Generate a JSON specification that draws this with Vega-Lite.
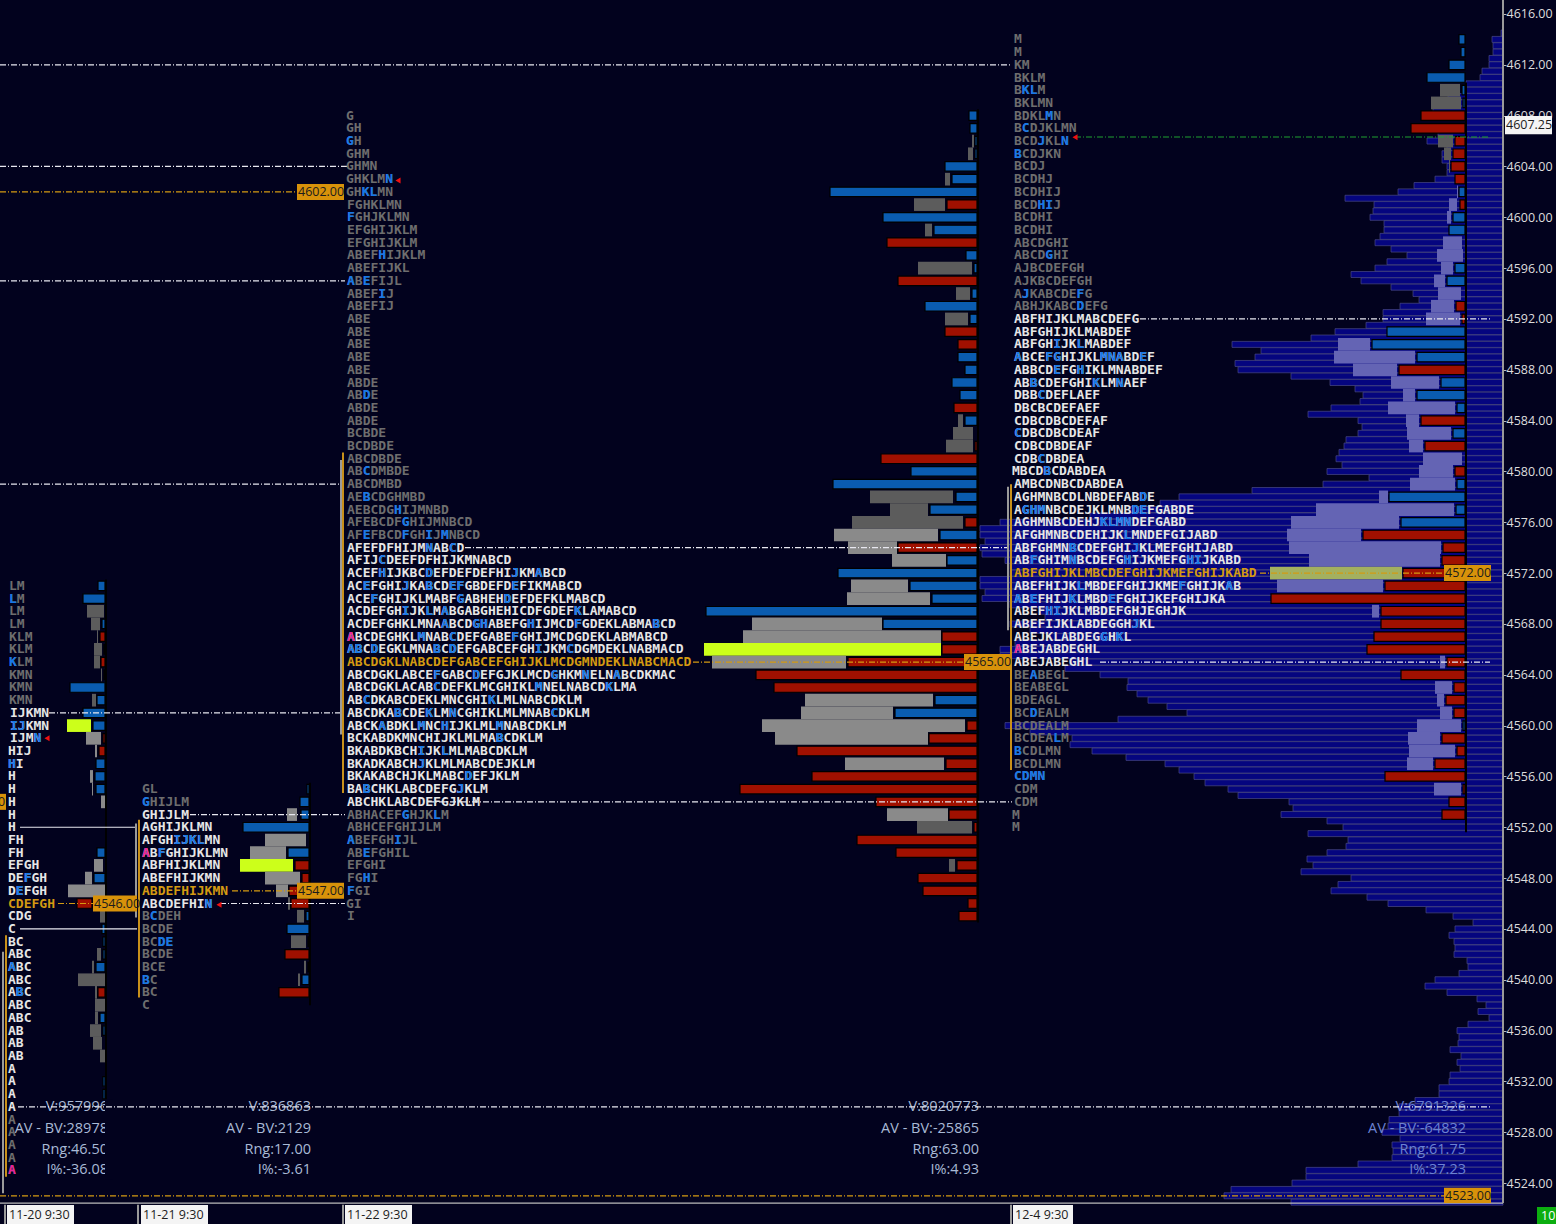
{"$schema":"https://vega.github.io/schema/vega-lite/v6.json","width":1556,"height":1224,"autosize":{"type":"none"},"padding":0,"background":"#02021e","config":{"view":{"stroke":null},"scale":{"continuousPadding":0},"axisY":{"domain":false,"grid":false,"ticks":true,"tickSize":3,"tickColor":"#bbbbbb","labelColor":"#dddddd","labelFont":"Open Sans","labelFontSize":12.5,"labelPadding":0}},
"resolve":{"scale":{"color":"independent","fill":"independent","strokeDash":"independent"}},
"datasets":{
"profile":[{"p":4614.5,"a":1501},{"p":4614,"a":1492},{"p":4613.5,"a":1493},{"p":4613,"a":1493},{"p":4612.5,"a":1489},{"p":4612,"a":1489},{"p":4611.5,"a":1482},{"p":4611,"a":1480},{"p":4610.5,"a":1466},{"p":4610,"a":1466},{"p":4609.5,"a":1448},{"p":4609,"a":1437},{"p":4608.5,"a":1433},{"p":4608,"a":1466},{"p":4607.5,"a":1466},{"p":4607,"a":1466},{"p":4606.5,"a":1438},{"p":4606,"a":1427},{"p":4605.5,"a":1447},{"p":4605,"a":1442},{"p":4604.5,"a":1442},{"p":4604,"a":1447},{"p":4603.5,"a":1447},{"p":4603,"a":1435},{"p":4602.5,"a":1414},{"p":4602,"a":1398},{"p":4601.5,"a":1345},{"p":4601,"a":1374},{"p":4600.5,"a":1373},{"p":4600,"a":1370},{"p":4599.5,"a":1384},{"p":4599,"a":1384},{"p":4598.5,"a":1380},{"p":4598,"a":1375},{"p":4597.5,"a":1391},{"p":4597,"a":1407},{"p":4596.5,"a":1387},{"p":4596,"a":1375},{"p":4595.5,"a":1351},{"p":4595,"a":1361},{"p":4594.5,"a":1391},{"p":4594,"a":1413},{"p":4593.5,"a":1419},{"p":4593,"a":1400},{"p":4592.5,"a":1383},{"p":4592,"a":1383},{"p":4591.5,"a":1366},{"p":4591,"a":1335},{"p":4590.5,"a":1311},{"p":4590,"a":1232},{"p":4589.5,"a":1261},{"p":4589,"a":1255},{"p":4588.5,"a":1235},{"p":4588,"a":1238},{"p":4587.5,"a":1291},{"p":4587,"a":1330},{"p":4586.5,"a":1355},{"p":4586,"a":1363},{"p":4585.5,"a":1360},{"p":4585,"a":1331},{"p":4584.5,"a":1308},{"p":4584,"a":1358},{"p":4583.5,"a":1362},{"p":4583,"a":1358},{"p":4582.5,"a":1346},{"p":4582,"a":1344},{"p":4581.5,"a":1339},{"p":4581,"a":1336},{"p":4580.5,"a":1342},{"p":4580,"a":1327},{"p":4579.5,"a":1369},{"p":4579,"a":1323},{"p":4578.5,"a":1252},{"p":4578,"a":1179},{"p":4577.5,"a":1160},{"p":4577,"a":1130},{"p":4576.5,"a":1090},{"p":4576,"a":1000},{"p":4575.5,"a":980},{"p":4575,"a":980},{"p":4574.5,"a":985},{"p":4574,"a":980},{"p":4573.5,"a":982},{"p":4573,"a":1005},{"p":4572.5,"a":1010},{"p":4572,"a":1010},{"p":4571.5,"a":980},{"p":4571,"a":980},{"p":4570.5,"a":985},{"p":4570,"a":982},{"p":4569.5,"a":1010},{"p":4569,"a":1040},{"p":4568.5,"a":1045},{"p":4568,"a":1010},{"p":4567.5,"a":1030},{"p":4567,"a":1050},{"p":4566.5,"a":1015},{"p":4566,"a":1000},{"p":4565.5,"a":1000},{"p":4565,"a":1070},{"p":4564.5,"a":1065},{"p":4564,"a":1100},{"p":4563.5,"a":1128},{"p":4563,"a":1127},{"p":4562.5,"a":1137},{"p":4562,"a":1148},{"p":4561.5,"a":1167},{"p":4561,"a":1187},{"p":4560.5,"a":1118},{"p":4560,"a":1005},{"p":4559.5,"a":1030},{"p":4559,"a":1072},{"p":4558.5,"a":1070},{"p":4558,"a":1092},{"p":4557.5,"a":1126},{"p":4557,"a":1165},{"p":4556.5,"a":1179},{"p":4556,"a":1194},{"p":4555.5,"a":1205},{"p":4555,"a":1228},{"p":4554.5,"a":1238},{"p":4554,"a":1289},{"p":4553.5,"a":1293},{"p":4553,"a":1281},{"p":4552.5,"a":1327},{"p":4552,"a":1343},{"p":4551.5,"a":1308},{"p":4551,"a":1348},{"p":4550.5,"a":1346},{"p":4550,"a":1327},{"p":4549.5,"a":1307},{"p":4549,"a":1313},{"p":4548.5,"a":1301},{"p":4548,"a":1351},{"p":4547.5,"a":1338},{"p":4547,"a":1331},{"p":4546.5,"a":1367},{"p":4546,"a":1388},{"p":4545.5,"a":1426},{"p":4545,"a":1453},{"p":4544.5,"a":1473},{"p":4544,"a":1455},{"p":4543.5,"a":1449},{"p":4543,"a":1454},{"p":4542.5,"a":1455},{"p":4542,"a":1454},{"p":4541.5,"a":1467},{"p":4541,"a":1468},{"p":4540.5,"a":1459},{"p":4540,"a":1435},{"p":4539.5,"a":1425},{"p":4539,"a":1447},{"p":4538.5,"a":1477},{"p":4538,"a":1486},{"p":4537.5,"a":1478},{"p":4537,"a":1489},{"p":4536.5,"a":1468},{"p":4536,"a":1457},{"p":4535.5,"a":1459},{"p":4535,"a":1458},{"p":4534.5,"a":1450},{"p":4534,"a":1461},{"p":4533.5,"a":1457},{"p":4533,"a":1460},{"p":4532.5,"a":1450},{"p":4532,"a":1449},{"p":4531.5,"a":1439},{"p":4531,"a":1439},{"p":4530.5,"a":1415},{"p":4530,"a":1399},{"p":4529.5,"a":1399},{"p":4529,"a":1389},{"p":4528.5,"a":1388},{"p":4528,"a":1382},{"p":4527.5,"a":1400},{"p":4527,"a":1392},{"p":4526.5,"a":1393},{"p":4526,"a":1392},{"p":4525.5,"a":1358},{"p":4525,"a":1306},{"p":4524.5,"a":1306},{"p":4524,"a":1292},{"p":4523.5,"a":1231},{"p":4523,"a":1224},{"p":4522.5,"a":1291}],
"grey":[
{"p":4610,"a":1440,"b":1460,"k":"dark"},{"p":4609,"a":1431,"b":1461,"k":"dark"},{"p":4606,"a":1438,"b":1453,"k":"dark"},{"p":4605,"a":1444,"b":1451,"k":"dark"},{"p":4604,"a":1449,"b":1450,"k":"dark"},
{"p":4602,"a":1457,"b":1458,"k":"violet"},{"p":4601,"a":1449,"b":1457,"k":"violet"},{"p":4600,"a":1447,"b":1451,"k":"violet"},{"p":4598,"a":1443,"b":1462,"k":"violet"},{"p":4597,"a":1437,"b":1463,"k":"violet"},{"p":4596,"a":1441,"b":1453,"k":"violet"},{"p":4595,"a":1434,"b":1445,"k":"violet"},{"p":4594,"a":1438,"b":1461,"k":"violet"},{"p":4593,"a":1431,"b":1454,"k":"violet"},{"p":4592,"a":1426,"b":1460,"k":"violet"},
{"p":4590,"a":1338,"b":1370,"k":"violet"},{"p":4589,"a":1334,"b":1415,"k":"violet"},{"p":4588,"a":1353,"b":1397,"k":"violet"},{"p":4587,"a":1391,"b":1439,"k":"violet"},{"p":4586,"a":1403,"b":1415,"k":"violet"},{"p":4585,"a":1388,"b":1455,"k":"violet"},{"p":4584,"a":1406,"b":1419,"k":"violet"},{"p":4583,"a":1407,"b":1451,"k":"violet"},{"p":4582,"a":1409,"b":1423,"k":"violet"},{"p":4581,"a":1423,"b":1462,"k":"violet"},{"p":4580,"a":1419,"b":1453,"k":"violet"},{"p":4579,"a":1410,"b":1455,"k":"violet"},{"p":4578,"a":1379,"b":1388,"k":"violet"},{"p":4577,"a":1316,"b":1454,"k":"violet"},{"p":4576,"a":1291,"b":1399,"k":"violet"},{"p":4575,"a":1287,"b":1361,"k":"violet"},{"p":4574,"a":1289,"b":1441,"k":"violet"},{"p":4573,"a":1309,"b":1440,"k":"violet"},{"p":4572,"a":1270,"b":1402,"k":"olive"},{"p":4571,"a":1277,"b":1383,"k":"violet"},{"p":4569,"a":1372,"b":1379,"k":"violet"},{"p":4565,"a":1440,"b":1445,"k":"violet"},{"p":4563,"a":1435,"b":1452,"k":"violet"},{"p":4562,"a":1437,"b":1444,"k":"violet"},{"p":4561,"a":1440,"b":1452,"k":"violet"},{"p":4560,"a":1417,"b":1461,"k":"violet"},{"p":4559,"a":1408,"b":1440,"k":"violet"},{"p":4558,"a":1409,"b":1455,"k":"violet"},{"p":4557,"a":1407,"b":1433,"k":"violet"},{"p":4555,"a":1434,"b":1461,"k":"violet"},
{"p":4606,"a":972,"b":974,"k":"dark"},{"p":4605,"a":968,"b":973,"k":"dark"},{"p":4603,"a":945,"b":950,"k":"dark"},{"p":4601,"a":914,"b":945,"k":"dark"},{"p":4599,"a":925,"b":932,"k":"dark"},{"p":4596,"a":918,"b":972,"k":"dark"},{"p":4594,"a":956,"b":970,"k":"dark"},{"p":4592,"a":945,"b":968,"k":"dark"},{"p":4584,"a":958,"b":963,"k":"dark"},{"p":4583,"a":953,"b":973,"k":"dark"},{"p":4582,"a":946,"b":973,"k":"dark"},{"p":4578,"a":870,"b":953,"k":"dark"},{"p":4577,"a":890,"b":928,"k":"dark"},{"p":4576,"a":852,"b":963,"k":"dark"},{"p":4575,"a":834,"b":938,"k":"light"},{"p":4574,"a":848,"b":897,"k":"light"},{"p":4573,"a":892,"b":946,"k":"light"},{"p":4571,"a":851,"b":908,"k":"light"},{"p":4570,"a":847,"b":930,"k":"light"},{"p":4568,"a":752,"b":882,"k":"light"},{"p":4567,"a":743,"b":941,"k":"light"},{"p":4566,"a":704,"b":941,"k":"yellow"},{"p":4565,"a":712,"b":846,"k":"light"},{"p":4562,"a":805,"b":933,"k":"light"},{"p":4561,"a":801,"b":893,"k":"light"},{"p":4560,"a":762,"b":965,"k":"light"},{"p":4559,"a":775,"b":928,"k":"light"},{"p":4557,"a":845,"b":944,"k":"light"},{"p":4553,"a":887,"b":948,"k":"light"},{"p":4552,"a":917,"b":972,"k":"dark"},{"p":4549,"a":949,"b":955,"k":"dark"},
{"p":4553,"a":287,"b":297,"k":"light"},{"p":4551,"a":265,"b":306,"k":"light"},{"p":4550,"a":250,"b":286,"k":"light"},{"p":4549,"a":240,"b":293,"k":"yellow"},{"p":4548,"a":265,"b":300,"k":"light"},{"p":4547,"a":276,"b":288,"k":"light"},{"p":4546,"a":288,"b":290,"k":"dark"},{"p":4545,"a":297,"b":304,"k":"dark"},{"p":4543,"a":291,"b":306,"k":"dark"},{"p":4541,"a":304,"b":306,"k":"dark"},{"p":4540,"a":298,"b":300,"k":"dark"},
{"p":4569,"a":87,"b":104,"k":"dark"},{"p":4568,"a":91,"b":100,"k":"dark"},{"p":4567,"a":97,"b":98,"k":"dark"},{"p":4566,"a":94,"b":102,"k":"dark"},{"p":4565,"a":94,"b":100,"k":"dark"},{"p":4564,"a":101,"b":102,"k":"dark"},{"p":4562,"a":92,"b":96,"k":"dark"},{"p":4560,"a":67,"b":91,"k":"yellow"},{"p":4559,"a":86,"b":101,"k":"light"},{"p":4558,"a":95,"b":97,"k":"light"},{"p":4556,"a":90,"b":93,"k":"light"},{"p":4555,"a":92,"b":93,"k":"light"},{"p":4554,"a":101,"b":105,"k":"light"},{"p":4549,"a":94,"b":103,"k":"light"},{"p":4548,"a":85,"b":92,"k":"light"},{"p":4547,"a":68,"b":105,"k":"light"},{"p":4545,"a":100,"b":105,"k":"dark"},{"p":4542,"a":97,"b":101,"k":"dark"},{"p":4541,"a":92,"b":94,"k":"dark"},{"p":4540,"a":78,"b":105,"k":"dark"},{"p":4539,"a":95,"b":97,"k":"dark"},{"p":4538,"a":95,"b":105,"k":"dark"},{"p":4537,"a":95,"b":98,"k":"dark"},{"p":4536,"a":90,"b":101,"k":"dark"},{"p":4535,"a":93,"b":102,"k":"dark"},{"p":4534,"a":100,"b":105,"k":"dark"}],
"delta":[
{"p":4614,"a":1459,"b":1465,"k":"b"},{"p":4613,"a":1461,"b":1465,"k":"b"},{"p":4612,"a":1449,"b":1465,"k":"b"},{"p":4611,"a":1427,"b":1465,"k":"b"},{"p":4610,"a":1462,"b":1465,"k":"b"},{"p":4609,"a":1463,"b":1465,"k":"b"},{"p":4608,"a":1421,"b":1465,"k":"r"},{"p":4607,"a":1411,"b":1465,"k":"r"},{"p":4606,"a":1455,"b":1465,"k":"r"},{"p":4605,"a":1453,"b":1465,"k":"r"},{"p":4604,"a":1451,"b":1465,"k":"r"},{"p":4603,"a":1455,"b":1465,"k":"r"},{"p":4602,"a":1459,"b":1465,"k":"b"},{"p":4601,"a":1460,"b":1465,"k":"r"},{"p":4600,"a":1453,"b":1465,"k":"b"},{"p":4599,"a":1449,"b":1465,"k":"b"},{"p":4596,"a":1455,"b":1465,"k":"b"},{"p":4595,"a":1447,"b":1465,"k":"b"},{"p":4593,"a":1456,"b":1465,"k":"r"},{"p":4592,"a":1462,"b":1465,"k":"r"},{"p":4591,"a":1387,"b":1465,"k":"b"},{"p":4590,"a":1372,"b":1465,"k":"b"},{"p":4589,"a":1417,"b":1465,"k":"b"},{"p":4588,"a":1399,"b":1465,"k":"r"},{"p":4587,"a":1441,"b":1465,"k":"b"},{"p":4586,"a":1417,"b":1465,"k":"b"},{"p":4585,"a":1457,"b":1465,"k":"b"},{"p":4584,"a":1421,"b":1465,"k":"r"},{"p":4583,"a":1453,"b":1465,"k":"b"},{"p":4582,"a":1425,"b":1465,"k":"r"},{"p":4580,"a":1455,"b":1465,"k":"r"},{"p":4579,"a":1457,"b":1465,"k":"b"},{"p":4578,"a":1389,"b":1465,"k":"b"},{"p":4577,"a":1456,"b":1465,"k":"b"},{"p":4576,"a":1401,"b":1465,"k":"b"},{"p":4575,"a":1363,"b":1465,"k":"r"},{"p":4574,"a":1443,"b":1465,"k":"r"},{"p":4573,"a":1442,"b":1465,"k":"r"},{"p":4572,"a":1403,"b":1465,"k":"r"},{"p":4571,"a":1385,"b":1465,"k":"r"},{"p":4570,"a":1271,"b":1465,"k":"r"},{"p":4569,"a":1381,"b":1465,"k":"r"},{"p":4568,"a":1381,"b":1465,"k":"r"},{"p":4567,"a":1374,"b":1465,"k":"r"},{"p":4566,"a":1367,"b":1465,"k":"r"},{"p":4565,"a":1447,"b":1465,"k":"r"},{"p":4564,"a":1401,"b":1465,"k":"r"},{"p":4563,"a":1454,"b":1465,"k":"r"},{"p":4562,"a":1446,"b":1465,"k":"r"},{"p":4561,"a":1454,"b":1465,"k":"r"},{"p":4560,"a":1463,"b":1465,"k":"b"},{"p":4559,"a":1442,"b":1465,"k":"r"},{"p":4558,"a":1457,"b":1465,"k":"r"},{"p":4557,"a":1435,"b":1465,"k":"r"},{"p":4556,"a":1385,"b":1465,"k":"r"},{"p":4555,"a":1463,"b":1465,"k":"r"},{"p":4554,"a":1449,"b":1465,"k":"r"},{"p":4553,"a":1442,"b":1465,"k":"r"},
{"p":4608,"a":969,"b":977,"k":"b"},{"p":4607,"a":970,"b":977,"k":"b"},{"p":4606,"a":975,"b":977,"k":"b"},{"p":4605,"a":975,"b":977,"k":"b"},{"p":4604,"a":945,"b":977,"k":"b"},{"p":4603,"a":952,"b":977,"k":"b"},{"p":4602,"a":830,"b":977,"k":"b"},{"p":4601,"a":947,"b":977,"k":"r"},{"p":4600,"a":883,"b":977,"k":"b"},{"p":4599,"a":934,"b":977,"k":"b"},{"p":4598,"a":887,"b":977,"k":"r"},{"p":4597,"a":966,"b":977,"k":"b"},{"p":4596,"a":974,"b":977,"k":"b"},{"p":4595,"a":898,"b":977,"k":"r"},{"p":4594,"a":972,"b":977,"k":"b"},{"p":4593,"a":925,"b":977,"k":"b"},{"p":4592,"a":970,"b":977,"k":"b"},{"p":4591,"a":945,"b":977,"k":"r"},{"p":4590,"a":958,"b":977,"k":"r"},{"p":4589,"a":958,"b":977,"k":"b"},{"p":4588,"a":965,"b":977,"k":"b"},{"p":4587,"a":952,"b":977,"k":"b"},{"p":4586,"a":960,"b":977,"k":"b"},{"p":4585,"a":954,"b":977,"k":"r"},{"p":4584,"a":965,"b":977,"k":"b"},{"p":4582,"a":975,"b":977,"k":"r"},{"p":4581,"a":881,"b":977,"k":"r"},{"p":4580,"a":911,"b":977,"k":"b"},{"p":4579,"a":833,"b":977,"k":"b"},{"p":4578,"a":956,"b":977,"k":"b"},{"p":4577,"a":930,"b":977,"k":"b"},{"p":4576,"a":965,"b":977,"k":"r"},{"p":4575,"a":940,"b":977,"k":"b"},{"p":4574,"a":898,"b":977,"k":"r"},{"p":4573,"a":947,"b":977,"k":"b"},{"p":4572,"a":838,"b":977,"k":"b"},{"p":4571,"a":910,"b":977,"k":"b"},{"p":4570,"a":932,"b":977,"k":"b"},{"p":4569,"a":706,"b":977,"k":"b"},{"p":4568,"a":883,"b":977,"k":"b"},{"p":4567,"a":942,"b":977,"k":"r"},{"p":4566,"a":942,"b":977,"k":"r"},{"p":4565,"a":848,"b":977,"k":"r"},{"p":4564,"a":756,"b":977,"k":"r"},{"p":4563,"a":774,"b":977,"k":"r"},{"p":4562,"a":935,"b":977,"k":"b"},{"p":4561,"a":895,"b":977,"k":"b"},{"p":4560,"a":967,"b":977,"k":"r"},{"p":4559,"a":929,"b":977,"k":"r"},{"p":4558,"a":797,"b":977,"k":"r"},{"p":4557,"a":946,"b":977,"k":"r"},{"p":4556,"a":812,"b":977,"k":"r"},{"p":4555,"a":740,"b":977,"k":"r"},{"p":4554,"a":876,"b":977,"k":"r"},{"p":4553,"a":949,"b":977,"k":"r"},{"p":4552,"a":974,"b":977,"k":"r"},{"p":4551,"a":857,"b":977,"k":"r"},{"p":4550,"a":896,"b":977,"k":"r"},{"p":4549,"a":957,"b":977,"k":"r"},{"p":4548,"a":918,"b":977,"k":"r"},{"p":4547,"a":923,"b":977,"k":"r"},{"p":4546,"a":968,"b":977,"k":"r"},{"p":4545,"a":959,"b":977,"k":"r"},
{"p":4555,"a":307,"b":309,"k":"b"},{"p":4554,"a":300,"b":309,"k":"b"},{"p":4553,"a":301,"b":309,"k":"b"},{"p":4552,"a":243,"b":309,"k":"b"},{"p":4550,"a":288,"b":309,"k":"b"},{"p":4549,"a":295,"b":309,"k":"r"},{"p":4548,"a":302,"b":309,"k":"r"},{"p":4547,"a":289,"b":309,"k":"r"},{"p":4546,"a":291,"b":309,"k":"r"},{"p":4545,"a":306,"b":309,"k":"b"},{"p":4544,"a":287,"b":309,"k":"b"},{"p":4543,"a":308,"b":309,"k":"r"},{"p":4542,"a":285,"b":309,"k":"r"},{"p":4541,"a":308,"b":309,"k":"b"},{"p":4540,"a":302,"b":309,"k":"b"},{"p":4539,"a":279,"b":309,"k":"r"},
{"p":4571,"a":98,"b":105,"k":"b"},{"p":4570,"a":83,"b":105,"k":"b"},{"p":4568,"a":102,"b":105,"k":"b"},{"p":4567,"a":100,"b":105,"k":"r"},{"p":4566,"a":104,"b":105,"k":"r"},{"p":4565,"a":101,"b":105,"k":"r"},{"p":4564,"a":104,"b":105,"k":"b"},{"p":4563,"a":70,"b":105,"k":"b"},{"p":4562,"a":97,"b":105,"k":"b"},{"p":4561,"a":83,"b":105,"k":"b"},{"p":4560,"a":93,"b":105,"k":"b"},{"p":4559,"a":103,"b":105,"k":"r"},{"p":4558,"a":99,"b":105,"k":"r"},{"p":4557,"a":96,"b":105,"k":"b"},{"p":4556,"a":95,"b":105,"k":"b"},{"p":4555,"a":96,"b":105,"k":"b"},{"p":4550,"a":97,"b":105,"k":"b"},{"p":4548,"a":94,"b":105,"k":"b"},{"p":4546,"a":77,"b":92,"k":"r"},{"p":4544,"a":102,"b":105,"k":"b"},{"p":4543,"a":103,"b":105,"k":"b"},{"p":4542,"a":103,"b":105,"k":"b"},{"p":4541,"a":96,"b":105,"k":"b"},{"p":4539,"a":98,"b":105,"k":"r"},{"p":4537,"a":100,"b":105,"k":"b"},{"p":4536,"a":103,"b":105,"k":"b"},{"p":4532,"a":103,"b":105,"k":"b"},{"p":4531,"a":103,"b":105,"k":"b"}],
"tpo":[
{"x":1014,"p":4614,"t":"M","k":"d"},{"x":1014,"p":4613,"t":"M","k":"d"},{"x":1014,"p":4612,"t":"KM","k":"d"},{"x":1014,"p":4611,"t":"BKLM","k":"d"},{"x":1014,"p":4610,"t":"BKLM","k":"d","h":"_KL"},{"x":1014,"p":4609,"t":"BKLMN","k":"d"},{"x":1014,"p":4608,"t":"BDKLMN","k":"d","h":"____M"},{"x":1014,"p":4607,"t":"BCDJKLMN","k":"d","h":"_C"},{"x":1014,"p":4606,"t":"BCDJKLN","k":"d","h":"___J__N"},{"x":1014,"p":4605,"t":"BCDJKN","k":"d","h":"B"},{"x":1014,"p":4604,"t":"BCDJ","k":"d"},{"x":1014,"p":4603,"t":"BCDHJ","k":"d"},{"x":1014,"p":4602,"t":"BCDHIJ","k":"d"},{"x":1014,"p":4601,"t":"BCDHIJ","k":"d","h":"___HI"},{"x":1014,"p":4600,"t":"BCDHI","k":"d"},{"x":1014,"p":4599,"t":"BCDHI","k":"d"},{"x":1014,"p":4598,"t":"ABCDGHI","k":"d"},{"x":1014,"p":4597,"t":"ABCDGHI","k":"d","h":"____G"},{"x":1014,"p":4596,"t":"AJBCDEFGH","k":"d"},{"x":1014,"p":4595,"t":"AJKBCDEFGH","k":"d"},{"x":1014,"p":4594,"t":"AJKABCDEFG","k":"d","h":"_J______F"},{"x":1014,"p":4593,"t":"ABHJKABCDEFG","k":"d","h":"________D"},{"x":1014,"p":4592,"t":"ABFHIJKLMABCDEFG","k":"w"},{"x":1014,"p":4591,"t":"ABFGHIJKLMABDEF","k":"w"},{"x":1014,"p":4590,"t":"ABFGHIJKLMABDEF","k":"w","h":"_____I__L"},{"x":1014,"p":4589,"t":"ABCEFGHIJKLMNABDEF","k":"w","h":"A___FG_____MNA__E"},{"x":1014,"p":4588,"t":"ABBCDEFGHIKLMNABDEF","k":"w","h":"_____E__H"},{"x":1014,"p":4587,"t":"ABBCDEFGHIKLMNAEF","k":"w","h":"__B_______K__N"},{"x":1014,"p":4586,"t":"DBBCDEFLAEF","k":"w","h":"___C"},{"x":1014,"p":4585,"t":"DBCBCDEFAEF","k":"w"},{"x":1014,"p":4584,"t":"CDBCDBCDEFAF","k":"w"},{"x":1014,"p":4583,"t":"CDBCDBCDEAF","k":"w","h":"C"},{"x":1014,"p":4582,"t":"CDBCDBDEAF","k":"w"},{"x":1014,"p":4581,"t":"CDBCDBDEA","k":"w","h":"___C"},{"x":1012,"p":4580,"t":"MBCDBCDABDEA","k":"w","h":"____B"},{"x":1014,"p":4579,"t":"AMBCDNBCDABDEA","k":"w"},{"x":1014,"p":4578,"t":"AGHMNBCDLNBDEFABDE","k":"w","h":"________________D"},{"x":1014,"p":4577,"t":"AGHMNBCDEJKLMNBDEFGABDE","k":"w","h":"_GHM___________DE"},{"x":1014,"p":4576,"t":"AGHMNBCDEHJKLMNDEFGABD","k":"w","h":"___________KLMN"},{"x":1014,"p":4575,"t":"AFGHMNBCDEHIJKLMNDEFGIJABD","k":"w","h":"______________L"},{"x":1014,"p":4574,"t":"ABFGHMNBCDEFGHIJKLMEFGHIJABD","k":"w","h":"_______B_______J"},{"x":1014,"p":4573,"t":"ABFGHIMNBCDEFGHIJKMEFGHIJKABD","k":"w","h":"__F____N______H_______HI"},{"x":1014,"p":4572,"t":"ABFGHIJKLMBCDEFGHIJKMEFGHIJKABD","k":"g"},{"x":1014,"p":4571,"t":"ABEFHIJKLMBDEFGHIJKMEFGHIJKAB","k":"w","h":"________L____________F_____A"},{"x":1014,"p":4570,"t":"ABEFHIJKLMBDEFGHIJKEFGHIJKA","k":"w","h":"A_E____K____E"},{"x":1014,"p":4569,"t":"ABEFHIJKLMBDEFGHJEGHJK","k":"w","h":"____HI"},{"x":1014,"p":4568,"t":"ABEFIJKLABDEGGHJKL","k":"w","h":"_______________J"},{"x":1014,"p":4567,"t":"ABEJKLABDEGGHKL","k":"w","h":"___________G_K"},{"x":1014,"p":4566,"t":"ABEJABDEGHL","k":"w","q":"A"},{"x":1014,"p":4565,"t":"ABEJABEGHL","k":"w"},{"x":1014,"p":4564,"t":"BEABEGL","k":"d","h":"__A"},{"x":1014,"p":4563,"t":"BEABEGL","k":"d"},{"x":1014,"p":4562,"t":"BDEAGL","k":"d"},{"x":1014,"p":4561,"t":"BCDEALM","k":"d","h":"__D"},{"x":1014,"p":4560,"t":"BCDEALM","k":"d"},{"x":1014,"p":4559,"t":"BCDEALM","k":"d","h":"_____L"},{"x":1014,"p":4558,"t":"BCDLMN","k":"d","h":"B"},{"x":1014,"p":4557,"t":"BCDLMN","k":"d"},{"x":1014,"p":4556,"t":"CDMN","k":"d","h":"CDMN"},{"x":1014,"p":4555,"t":"CDM","k":"d"},{"x":1014,"p":4554,"t":"CDM","k":"d"},{"x":1012,"p":4553,"t":"M","k":"d"},{"x":1012,"p":4552,"t":"M","k":"d"},
{"x":346,"p":4608,"t":"G","k":"d"},{"x":346,"p":4607,"t":"GH","k":"d"},{"x":346,"p":4606,"t":"GH","k":"d","h":"G"},{"x":346,"p":4605,"t":"GHM","k":"d"},{"x":346,"p":4604,"t":"GHMN","k":"d"},{"x":346,"p":4603,"t":"GHKLMN","k":"d","h":"_____N"},{"x":346,"p":4602,"t":"GHKLMN","k":"d","h":"__KL"},{"x":347,"p":4601,"t":"FGHKLMN","k":"d"},{"x":347,"p":4600,"t":"FGHJKLMN","k":"d","h":"F"},{"x":347,"p":4599,"t":"EFGHIJKLM","k":"d"},{"x":347,"p":4598,"t":"EFGHIJKLM","k":"d"},{"x":347,"p":4597,"t":"ABEFHIJKLM","k":"d","h":"____H"},{"x":347,"p":4596,"t":"ABEFIJKL","k":"d"},{"x":347,"p":4595,"t":"ABEFIJL","k":"d","h":"A_E"},{"x":347,"p":4594,"t":"ABEFIJ","k":"d","h":"____I"},{"x":347,"p":4593,"t":"ABEFIJ","k":"d"},{"x":347,"p":4592,"t":"ABE","k":"d"},{"x":347,"p":4591,"t":"ABE","k":"d"},{"x":347,"p":4590,"t":"ABE","k":"d"},{"x":347,"p":4589,"t":"ABE","k":"d"},{"x":347,"p":4588,"t":"ABE","k":"d"},{"x":347,"p":4587,"t":"ABDE","k":"d"},{"x":347,"p":4586,"t":"ABDE","k":"d","h":"__D"},{"x":347,"p":4585,"t":"ABDE","k":"d"},{"x":347,"p":4584,"t":"ABDE","k":"d"},{"x":347,"p":4583,"t":"BCBDE","k":"d"},{"x":347,"p":4582,"t":"BCDBDE","k":"d"},{"x":347,"p":4581,"t":"ABCDBDE","k":"d"},{"x":347,"p":4580,"t":"ABCDMBDE","k":"d","h":"__C"},{"x":347,"p":4579,"t":"ABCDMBD","k":"d"},{"x":347,"p":4578,"t":"AEBCDGHMBD","k":"d","h":"__B"},{"x":347,"p":4577,"t":"AEBCDGHIJMNBD","k":"d","h":"______H"},{"x":347,"p":4576,"t":"AFEBCDFGHIJMNBCD","k":"d","h":"_______G"},{"x":347,"p":4575,"t":"AFEFBCDFGHIJMNBCD","k":"d","h":"__E____F__I_M"},{"x":347,"p":4574,"t":"AFEFDFHIJMNABCD","k":"w","h":"__________N__C"},{"x":347,"p":4573,"t":"AFIJCDEEFDFHIJKMNABCD","k":"w","h":"____C"},{"x":347,"p":4572,"t":"ACEFHIJKBCDEFDEFDEFHIJKMABCD","k":"w","h":"____H_____D__________J__A"},{"x":347,"p":4571,"t":"ACEFGHIJKABCDEFGBDEFDEFIKMABCD","k":"w","h":"__E____J__B__EF______E"},{"x":347,"p":4570,"t":"ACEFGHIJKLMABFGABHEHDEFDEFKLMABCD","k":"w","h":"___F__________G_____D"},{"x":347,"p":4569,"t":"ACDEFGHIJKLMABGABGHEHICDFGDEFKLAMABCD","k":"w","h":"_______I__L_A________________K"},{"x":347,"p":4568,"t":"ACDEFGHKLMNAABCDGHABEFGHIJMCDFGDEKLABMABCD","k":"w","h":"____________A___GH_____H_____F_________B"},{"x":347,"p":4567,"t":"ABCDEGHKLMNABCDEFGABEFGHIJMCDGDEKLABMABCD","k":"w","h":"_________M___C_______F","q":"A"},{"x":347,"p":4566,"t":"ABCDEGKLMNABCDEFGABCEFGHIJKMCDGMDEKLNABMACD","k":"w","h":"AB_D_______B_D__________I___C"},{"x":347,"p":4565,"t":"ABCDGKLNABCDEFGABCEFGHIJKLMCDGMNDEKLNABCMACD","k":"g"},{"x":347,"p":4564,"t":"ABCDGKLABCEFGABCDEFGJKLMCDGHKMNELNABCDKMAC","k":"w","h":"___________F____D_________G___N___A"},{"x":347,"p":4563,"t":"ABCDGKLACABCDEFKLMCGHIKLMNELNABCDKLMA","k":"w","h":"___________C____________M________K"},{"x":347,"p":4562,"t":"ABCDKABCDEKLMNCGHIKLMLNABCDKLM","k":"w","h":"__C_______________K"},{"x":347,"p":4561,"t":"ABCDKABCDEKLMNCGHIKLMLMNABCDKLM","k":"w","h":"______B___K__N____________C"},{"x":347,"p":4560,"t":"ABCKABDKLMNCHIJKLMLMNABCDKLM","k":"w","h":"____A____M__H______M"},{"x":347,"p":4559,"t":"BCKABDKMNCHIJKLMLMABCDKLM","k":"w","h":"___________________B"},{"x":347,"p":4558,"t":"BKABDKBCHIJKLMLMABCDKLM","k":"w","h":"_________I__L"},{"x":347,"p":4557,"t":"BKADKABCHJKLMLMABCDEJKLM","k":"w","h":"_________J"},{"x":347,"p":4556,"t":"BKAKABCHJKLMABCDEFJKLM","k":"w","h":"_______________D"},{"x":347,"p":4555,"t":"BABCHKLABCDEFGJKLM","k":"w","h":"__B___________J"},{"x":347,"p":4554,"t":"ABCHKLABCDEFGJKLM","k":"w"},{"x":347,"p":4553,"t":"ABHACEFGHJKLM","k":"d","h":"_______G___L"},{"x":347,"p":4552,"t":"ABHCEFGHIJLM","k":"d"},{"x":347,"p":4551,"t":"ABEFGHIJL","k":"d","h":"A_____I"},{"x":347,"p":4550,"t":"ABEFGHIL","k":"d","h":"__E"},{"x":347,"p":4549,"t":"EFGHI","k":"d"},{"x":347,"p":4548,"t":"FGHI","k":"d","h":"__H"},{"x":347,"p":4547,"t":"FGI","k":"d","h":"F"},{"x":346,"p":4546,"t":"GI","k":"d"},{"x":347,"p":4545,"t":"I","k":"d"},
{"x":142,"p":4555,"t":"GL","k":"d"},{"x":142,"p":4554,"t":"GHIJLM","k":"d","h":"G"},{"x":142,"p":4553,"t":"GHIJLM","k":"w"},{"x":142,"p":4552,"t":"AGHIJKLMN","k":"w"},{"x":142,"p":4551,"t":"AFGHIJKLMN","k":"w","h":"____IJKL"},{"x":142,"p":4550,"t":"ABFGHIJKLMN","k":"w","h":"__F","q":"A"},{"x":142,"p":4549,"t":"ABFHIJKLMN","k":"w"},{"x":142,"p":4548,"t":"ABEFHIJKMN","k":"w"},{"x":142,"p":4547,"t":"ABDEFHIJKMN","k":"g"},{"x":142,"p":4546,"t":"ABCDEFHIN","k":"w","h":"________N"},{"x":142,"p":4545,"t":"BCDEH","k":"d","h":"_C"},{"x":142,"p":4544,"t":"BCDE","k":"d"},{"x":142,"p":4543,"t":"BCDE","k":"d","h":"__DE"},{"x":142,"p":4542,"t":"BCDE","k":"d"},{"x":142,"p":4541,"t":"BCE","k":"d"},{"x":142,"p":4540,"t":"BC","k":"d","h":"B"},{"x":142,"p":4539,"t":"BC","k":"d"},{"x":142,"p":4538,"t":"C","k":"d"},
{"x":9,"p":4571,"t":"LM","k":"d"},{"x":9,"p":4570,"t":"LM","k":"d","h":"L"},{"x":9,"p":4569,"t":"LM","k":"d"},{"x":9,"p":4568,"t":"LM","k":"d"},{"x":9,"p":4567,"t":"KLM","k":"d"},{"x":9,"p":4566,"t":"KLM","k":"d"},{"x":9,"p":4565,"t":"KLM","k":"d","h":"K"},{"x":9,"p":4564,"t":"KMN","k":"d"},{"x":9,"p":4563,"t":"KMN","k":"d"},{"x":9,"p":4562,"t":"KMN","k":"d"},{"x":10,"p":4561,"t":"IJKMN","k":"w"},{"x":10,"p":4560,"t":"IJKMN","k":"w","h":"IJ"},{"x":10,"p":4559,"t":"IJMN","k":"w","h":"___N"},{"x":8,"p":4558,"t":"HIJ","k":"w"},{"x":8,"p":4557,"t":"HI","k":"w","h":"H"},{"x":8,"p":4556,"t":"H","k":"w"},{"x":8,"p":4555,"t":"H","k":"w"},{"x":8,"p":4554,"t":"H","k":"w"},{"x":8,"p":4553,"t":"H","k":"w"},{"x":8,"p":4552,"t":"H","k":"w"},{"x":8,"p":4551,"t":"FH","k":"w"},{"x":8,"p":4550,"t":"FH","k":"w"},{"x":8,"p":4549,"t":"EFGH","k":"w"},{"x":8,"p":4548,"t":"DEFGH","k":"w","h":"__F"},{"x":8,"p":4547,"t":"DEFGH","k":"w","h":"_E"},{"x":8,"p":4546,"t":"CDEFGH","k":"g"},{"x":8,"p":4545,"t":"CDG","k":"w"},{"x":8,"p":4544,"t":"C","k":"w"},{"x":8,"p":4543,"t":"BC","k":"w"},{"x":8,"p":4542,"t":"ABC","k":"w"},{"x":8,"p":4541,"t":"ABC","k":"w","h":"A"},{"x":8,"p":4540,"t":"ABC","k":"w"},{"x":8,"p":4539,"t":"ABC","k":"w","h":"_B"},{"x":8,"p":4538,"t":"ABC","k":"w"},{"x":8,"p":4537,"t":"ABC","k":"w"},{"x":8,"p":4536,"t":"AB","k":"w"},{"x":8,"p":4535,"t":"AB","k":"w"},{"x":8,"p":4534,"t":"AB","k":"w"},{"x":8,"p":4533,"t":"A","k":"w"},{"x":8,"p":4532,"t":"A","k":"w"},{"x":8,"p":4531,"t":"A","k":"w"},{"x":8,"p":4530,"t":"A","k":"w"},{"x":8,"p":4529,"t":"A","k":"d"},{"x":8,"p":4528,"t":"A","k":"d"},{"x":8,"p":4527,"t":"A","k":"d"},{"x":8,"p":4526,"t":"A","k":"d"},{"x":8,"p":4525,"t":"A","k":"d","q":"A"}],
"hlines":[
{"a":0,"b":1010,"p":4612,"c":"w","s":"dash"},{"a":0,"b":347,"p":4604,"c":"w","s":"dash"},{"a":0,"b":297,"p":4602,"c":"g","s":"dash"},{"a":0,"b":345,"p":4595,"c":"w","s":"dash"},{"a":0,"b":343,"p":4579,"c":"w","s":"dash"},{"a":465,"b":1008,"p":4574,"c":"w","s":"dash"},{"a":693,"b":964,"p":4565,"c":"g","s":"dash"},{"a":49,"b":343,"p":4561,"c":"w","s":"dash"},{"a":428,"b":1012,"p":4554,"c":"w","s":"dash"},{"a":190,"b":345,"p":4553,"c":"w","s":"dash"},{"a":20,"b":137,"p":4552,"c":"w","s":"solid"},{"a":232,"b":297,"p":4547,"c":"g","s":"dash"},{"a":58,"b":93,"p":4546,"c":"g","s":"dash"},{"a":220,"b":345,"p":4546,"c":"w","s":"dash"},{"a":20,"b":137,"p":4544,"c":"w","s":"solid"},{"a":18,"b":1490,"p":4530,"c":"w","s":"dash"},{"a":1140,"b":1490,"p":4592,"c":"w","s":"dash"},{"a":1100,"b":1490,"p":4565,"c":"w","s":"dash"},{"a":1260,"b":1444,"p":4572,"c":"g","s":"dash"},{"a":1075,"b":1490,"p":4606.32,"c":"v","s":"dash"},{"a":0,"b":1444,"p":4523,"c":"g","s":"dash"},{"a":0,"b":1503,"p":4522.43,"c":"a","s":"solid"}],
"vlines":[
{"x":6,"p0":4543.5,"p1":4524.5,"c":"g"},{"x":3,"p0":4542.2,"p1":4523.2,"c":"a"},{"x":139,"p0":4552.6,"p1":4538.6,"c":"g"},{"x":136,"p0":4552.3,"p1":4544.9,"c":"a"},{"x":343,"p0":4581.5,"p1":4554.7,"c":"g"},{"x":341,"p0":4580.9,"p1":4559.3,"c":"a"},{"x":1011,"p0":4579,"p1":4556.5,"c":"g"},{"x":1008,"p0":4578.8,"p1":4567.5,"c":"a"},{"x":1503,"p0":4617.1,"p1":4522.43,"c":"a"},{"x":5,"p0":4522.3,"p1":4520.78,"c":"a"},{"x":138,"p0":4522.3,"p1":4520.78,"c":"a"},{"x":343,"p0":4522.3,"p1":4520.78,"c":"a"},{"x":1011,"p0":4522.3,"p1":4520.78,"c":"a"}],
"blackline":[{"x":1466,"p0":4610.6,"p1":4551.6},{"x":978,"p0":4608.5,"p1":4544.5},{"x":310,"p0":4555.5,"p1":4538},{"x":106,"p0":4571.5,"p1":4530.5}],
"tri":[{"x":398,"p":4602.9},{"x":47,"p":4559},{"x":219,"p":4545.9},{"x":1075,"p":4606.3}],
"covers":[{"a":105,"b":113,"p0":4530.6,"p1":4524.3},{"a":137,"b":141.5,"p0":4546.7,"p1":4545.4}],
"boxes":[
{"a":297,"b":344,"p0":4602.63,"p1":4601.37,"k":"o"},{"a":297,"b":344,"p0":4547.63,"p1":4546.37,"k":"o"},{"a":93,"b":137,"p0":4546.63,"p1":4545.37,"k":"o"},{"a":964,"b":1010,"p0":4565.63,"p1":4564.37,"k":"o"},{"a":1444,"b":1491,"p0":4572.63,"p1":4571.37,"k":"o"},{"a":1444,"b":1491,"p0":4523.63,"p1":4522.43,"k":"o"},{"a":0,"b":6,"p0":4554.63,"p1":4553.37,"k":"o"},{"a":1505,"b":1552,"p0":4607.97,"p1":4606.53,"k":"w"},{"a":7,"b":74,"p0":4522.27,"p1":4520.78,"k":"w"},{"a":141,"b":208,"p0":4522.27,"p1":4520.78,"k":"w"},{"a":345,"b":412,"p0":4522.27,"p1":4520.78,"k":"w"},{"a":1013,"b":1073,"p0":4522.27,"p1":4520.78,"k":"w"},{"a":1537,"b":1556,"p0":4522.12,"p1":4520.78,"k":"n"}],
"labels":[
{"x":298,"p":4602,"t":"4602.00","k":"dark"},{"x":298,"p":4547,"t":"4547.00","k":"dark"},{"x":94,"p":4546,"t":"4546.00","k":"dark"},{"x":965,"p":4565,"t":"4565.00","k":"dark"},{"x":1445,"p":4572,"t":"4572.00","k":"dark"},{"x":1445,"p":4523,"t":"4523.00","k":"dark"},{"x":-2,"p":4554,"t":"0","k":"dark"},{"x":1506,"p":4607.25,"t":"4607.25","k":"dark"},{"x":9,"p":4521.49,"t":"11-20  9:30","k":"dark"},{"x":143,"p":4521.49,"t":"11-21  9:30","k":"dark"},{"x":347,"p":4521.49,"t":"11-22  9:30","k":"dark"},{"x":1015,"p":4521.49,"t":"12-4  9:30","k":"dark"},{"x":1541,"p":4521.4,"t":"10","k":"white"}],
"stats":[
{"x":108,"p":4530,"t":"V:957996","k":"s"},{"x":108,"p":4528.27,"t":"AV - BV:28978","k":"s"},{"x":108,"p":4526.6,"t":"Rng:46.50","k":"s"},{"x":108,"p":4525,"t":"I%:-36.08","k":"s"},
{"x":311,"p":4530,"t":"V:836863","k":"s"},{"x":311,"p":4528.27,"t":"AV - BV:2129","k":"s"},{"x":311,"p":4526.6,"t":"Rng:17.00","k":"s"},{"x":311,"p":4525,"t":"I%:-3.61","k":"s"},
{"x":979,"p":4530,"t":"V:8020773","k":"s"},{"x":979,"p":4528.27,"t":"AV - BV:-25865","k":"s"},{"x":979,"p":4526.6,"t":"Rng:63.00","k":"s"},{"x":979,"p":4525,"t":"I%:4.93","k":"s"},
{"x":1466,"p":4530,"t":"V:6791326","k":"t"},{"x":1466,"p":4528.27,"t":"AV - BV:-64832","k":"t"},{"x":1466,"p":4526.6,"t":"Rng:61.75","k":"t"},{"x":1466,"p":4525,"t":"I%:37.23","k":"t"}]
},
"layer":[
{"data":{"name":"profile"},"mark":{"type":"bar","orient":"horizontal","size":6,"fill":"#05057f","stroke":"#4a4a86","strokeWidth":0.7},"encoding":{"x":{"field":"a","type":"quantitative","scale":{"domain":[0,1556],"nice":false,"zero":false},"axis":null},"x2":{"datum":1503},"y":{"field":"p","type":"quantitative","title":null,"scale":{"domain":[4520.78,4617.1],"nice":false,"zero":false},"axis":{"orient":"right","offset":-53,"values":[4524,4528,4532,4536,4540,4544,4548,4552,4556,4560,4564,4568,4572,4576,4580,4584,4588,4592,4596,4600,4604,4608,4612,4616],"format":".2f"}}}},
{"data":{"name":"grey"},"mark":{"type":"bar","orient":"horizontal","size":12.7},"encoding":{"x":{"field":"a","type":"quantitative","scale":{"domain":[0,1556],"nice":false,"zero":false},"axis":null},"x2":{"field":"b"},"y":{"field":"p","type":"quantitative","title":null,"scale":{"domain":[4520.78,4617.1],"nice":false,"zero":false}},"color":{"field":"k","type":"nominal","legend":null,"scale":{"domain":["dark","light","yellow","violet","olive"],"range":["#5c5c5c","#8a8a8a","#ccff1a","#6464b4","#a3b060"]}}}},
{"data":{"name":"delta"},"mark":{"type":"bar","orient":"horizontal","size":9.5,"stroke":"#000000","strokeWidth":1.2},"encoding":{"x":{"field":"a","type":"quantitative","scale":{"domain":[0,1556],"nice":false,"zero":false},"axis":null},"x2":{"field":"b"},"y":{"field":"p","type":"quantitative","title":null,"scale":{"domain":[4520.78,4617.1],"nice":false,"zero":false}},"fill":{"field":"k","type":"nominal","legend":null,"scale":{"domain":["r","b"],"range":["#a01000","#0a5cb0"]}}}},
{"data":{"name":"blackline"},"mark":{"type":"rule","strokeWidth":2,"color":"#000000"},"encoding":{"x":{"field":"x","type":"quantitative","scale":{"domain":[0,1556],"nice":false,"zero":false},"axis":null},"y":{"field":"p0","type":"quantitative","title":null,"scale":{"domain":[4520.78,4617.1],"nice":false,"zero":false}},"y2":{"field":"p1"}}},
{"data":{"name":"stats"},"mark":{"type":"text","align":"right","baseline":"middle","font":"Open Sans","fontSize":14.5},"encoding":{"x":{"field":"x","type":"quantitative","scale":{"domain":[0,1556],"nice":false,"zero":false},"axis":null},"y":{"field":"p","type":"quantitative","title":null,"scale":{"domain":[4520.78,4617.1],"nice":false,"zero":false}},"text":{"field":"t"},"color":{"field":"k","type":"nominal","legend":null,"scale":{"domain":["s","t"],"range":["#a9bad6","#6c82d2"]}}}},
{"data":{"name":"covers"},"mark":{"type":"rect","color":"#02021e"},"encoding":{"x":{"field":"a","type":"quantitative","scale":{"domain":[0,1556],"nice":false,"zero":false},"axis":null},"x2":{"field":"b"},"y":{"field":"p0","type":"quantitative","title":null,"scale":{"domain":[4520.78,4617.1],"nice":false,"zero":false}},"y2":{"field":"p1"}}},
{"data":{"name":"hlines"},"mark":{"type":"rule","strokeWidth":1.2},"encoding":{"x":{"field":"a","type":"quantitative","scale":{"domain":[0,1556],"nice":false,"zero":false},"axis":null},"x2":{"field":"b"},"y":{"field":"p","type":"quantitative","title":null,"scale":{"domain":[4520.78,4617.1],"nice":false,"zero":false}},"color":{"field":"c","type":"nominal","legend":null,"scale":{"domain":["w","g","v","a"],"range":["#e8e8f0","#d49a12","#1fa030","#bbbbbb"]}},"strokeDash":{"field":"s","type":"nominal","legend":null,"scale":{"domain":["dash","solid"],"range":[[6,2,1,2],[1,0]]}}}},
{"data":{"name":"vlines"},"mark":{"type":"rule","strokeWidth":2},"encoding":{"x":{"field":"x","type":"quantitative","scale":{"domain":[0,1556],"nice":false,"zero":false},"axis":null},"y":{"field":"p0","type":"quantitative","title":null,"scale":{"domain":[4520.78,4617.1],"nice":false,"zero":false}},"y2":{"field":"p1"},"color":{"field":"c","type":"nominal","legend":null,"scale":{"domain":["g","a"],"range":["#c8901a","#9a9a9a"]}}}},
{"data":{"name":"tpo"},"mark":{"type":"text","align":"left","baseline":"middle","font":"DejaVu Sans Mono","fontSize":13,"fontWeight":"bold"},"encoding":{"x":{"field":"x","type":"quantitative","scale":{"domain":[0,1556],"nice":false,"zero":false},"axis":null},"y":{"field":"p","type":"quantitative","title":null,"scale":{"domain":[4520.78,4617.1],"nice":false,"zero":false}},"text":{"field":"t"},"color":{"field":"k","type":"nominal","legend":null,"scale":{"domain":["d","w","g"],"range":["#6e6e6e","#e6e6e6","#d49a12"]}}}},
{"data":{"name":"tpo"},"transform":[{"filter":"datum.h"},{"calculate":"'\u200b'+replace(datum.h,regexp('_','g'),'\u00a0')","as":"ht"}],"mark":{"type":"text","align":"left","baseline":"middle","font":"DejaVu Sans Mono","fontSize":13,"fontWeight":"bold","color":"#1577e8"},"encoding":{"x":{"field":"x","type":"quantitative","scale":{"domain":[0,1556],"nice":false,"zero":false},"axis":null},"y":{"field":"p","type":"quantitative","title":null,"scale":{"domain":[4520.78,4617.1],"nice":false,"zero":false}},"text":{"field":"ht"}}},
{"data":{"name":"tpo"},"transform":[{"filter":"datum.q"}],"mark":{"type":"text","align":"left","baseline":"middle","font":"DejaVu Sans Mono","fontSize":13,"fontWeight":"bold","color":"#e8209a"},"encoding":{"x":{"field":"x","type":"quantitative","scale":{"domain":[0,1556],"nice":false,"zero":false},"axis":null},"y":{"field":"p","type":"quantitative","title":null,"scale":{"domain":[4520.78,4617.1],"nice":false,"zero":false}},"text":{"field":"q"}}},
{"data":{"name":"tri"},"mark":{"type":"point","shape":"triangle-left","filled":true,"color":"#ee1111","size":35,"opacity":1},"encoding":{"x":{"field":"x","type":"quantitative","scale":{"domain":[0,1556],"nice":false,"zero":false},"axis":null},"y":{"field":"p","type":"quantitative","title":null,"scale":{"domain":[4520.78,4617.1],"nice":false,"zero":false}}}},
{"data":{"name":"boxes"},"mark":{"type":"rect"},"encoding":{"x":{"field":"a","type":"quantitative","scale":{"domain":[0,1556],"nice":false,"zero":false},"axis":null},"x2":{"field":"b"},"y":{"field":"p0","type":"quantitative","title":null,"scale":{"domain":[4520.78,4617.1],"nice":false,"zero":false}},"y2":{"field":"p1"},"fill":{"field":"k","type":"nominal","legend":null,"scale":{"domain":["o","w","n"],"range":["#d8920a","#f4f4f4","#0cae10"]}}}},
{"data":{"name":"labels"},"mark":{"type":"text","align":"left","baseline":"middle","font":"Open Sans","fontSize":12.5},"encoding":{"x":{"field":"x","type":"quantitative","scale":{"domain":[0,1556],"nice":false,"zero":false},"axis":null},"y":{"field":"p","type":"quantitative","title":null,"scale":{"domain":[4520.78,4617.1],"nice":false,"zero":false}},"text":{"field":"t"},"color":{"field":"k","type":"nominal","legend":null,"scale":{"domain":["dark","white"],"range":["#1c1c1c","#ffffff"]}}}}
]}
